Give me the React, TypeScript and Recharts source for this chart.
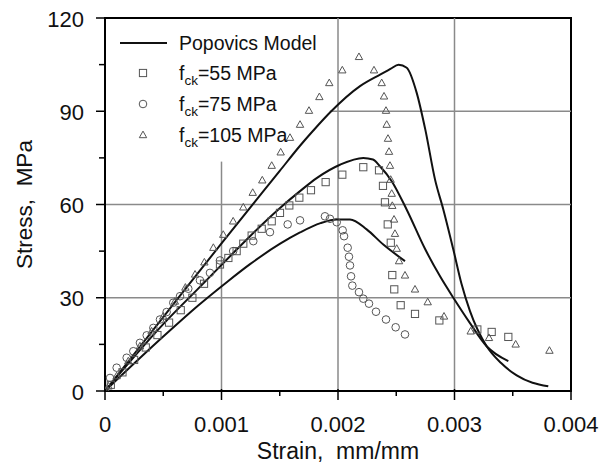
import React from 'react';
import {
  ComposedChart,
  Line,
  Scatter,
  XAxis,
  YAxis,
  ReferenceLine,
  ReferenceArea,
  Legend,
} from 'recharts';

const FONT = '"Liberation Sans", Arial, Helvetica, sans-serif';

// ---- Popovics model curves (strain in mm/mm, stress in MPa) ----
const pop105Strain = [0, 0.0005, 0.001, 0.0015, 0.001674, 0.001788, 0.001931, 0.002189, 0.002361, 0.00245, 0.00252, 0.00259, 0.002675, 0.00275, 0.002833, 0.002904, 0.00299, 0.00306, 0.003133, 0.003276, 0.0034, 0.003534, 0.003805];
const pop105Stress = [0, 23.8, 47.5, 70.8, 78.9, 83.8, 89.6, 98.1, 101.8, 103.6, 105, 104, 96, 84, 68, 58.4, 45.5, 34.5, 25.7, 14.4, 9, 5, 1.5];

const pop75Strain = [0, 0.0005, 0.000815, 0.00113, 0.001245, 0.0015, 0.001674, 0.001817, 0.002017, 0.002217, 0.0023, 0.00236, 0.002461, 0.002589, 0.00275, 0.002876, 0.00299, 0.00313, 0.003276, 0.003462];
const pop75Stress = [0, 21.5, 33.5, 45.5, 49.8, 58.8, 64.3, 68.5, 72.8, 75, 74.5, 72.3, 67.5, 58.4, 45.5, 36.9, 30, 22, 14.4, 9.6];

const pop55Strain = [0, 0.0005, 0.0008, 0.001045, 0.001245, 0.0015, 0.001674, 0.00185, 0.00199, 0.002103, 0.002246, 0.002389, 0.002575];
const pop55Stress = [0, 17.5, 27.5, 35, 40.8, 47.3, 51, 54, 55.2, 55.2, 52, 47.1, 41.8];

// ---- Test data ----
const fck55Strain = [0, 0.00005, 0.00015, 0.00025, 0.00035, 0.00045, 0.00055, 0.00065, 0.00075, 0.00085, 0.000987, 0.001059, 0.00113, 0.001187, 0.001259, 0.001345, 0.001431, 0.001502, 0.001582, 0.001668, 0.001768, 0.001894, 0.002037, 0.002217, 0.002352, 0.002386, 0.002403, 0.002427, 0.002453, 0.002466, 0.002483, 0.002538, 0.002661, 0.00287, 0.003196, 0.003319, 0.003462];
const fck55Stress = [0, 2, 6, 10, 14, 18, 22, 26, 30, 34.5, 40.7, 42.8, 45, 47.4, 50, 52.2, 54.6, 57.3, 59.7, 62.2, 64.6, 67.2, 69.6, 72, 71, 66, 60.7, 53.6, 47.7, 37.3, 32.7, 27.6, 24.8, 22.7, 19.8, 19, 17.4];

const fck75Strain = [0, 0.000043, 0.0001, 0.000186, 0.000243, 0.0003, 0.000358, 0.000415, 0.000472, 0.000529, 0.000586, 0.000644, 0.000715, 0.000815, 0.000901, 0.000987, 0.0011, 0.001273, 0.001416, 0.001568, 0.001674, 0.001888, 0.001931, 0.001989, 0.00204, 0.002052, 0.002083, 0.002094, 0.002103, 0.002112, 0.002123, 0.00218, 0.002217, 0.002266, 0.002326, 0.002412, 0.002495, 0.002575];
const fck75Stress = [0, 4.2, 7.5, 10.7, 12.8, 15.5, 17.9, 20.3, 23, 25.4, 28.4, 30.5, 32.9, 35.6, 38, 42, 45, 48.2, 51.1, 53.6, 54.9, 56.2, 55.4, 54.3, 51.7, 49.8, 46.1, 43.2, 40.4, 36.9, 33.9, 31.8, 29.7, 28.1, 25.5, 23, 20.5, 18.2];

const fck105Strain = [0, 0.00003, 0.0001, 0.0002, 0.0003, 0.0004, 0.0005, 0.0006, 0.00069, 0.000773, 0.000853, 0.00093, 0.001015, 0.0011, 0.001187, 0.001268, 0.00135, 0.001431, 0.001508, 0.001588, 0.001674, 0.001751, 0.00184, 0.001925, 0.002037, 0.00218, 0.002309, 0.002375, 0.002395, 0.002412, 0.002418, 0.002429, 0.002438, 0.002446, 0.002452, 0.002461, 0.002466, 0.002481, 0.002489, 0.002504, 0.002524, 0.002575, 0.002661, 0.00277, 0.00291, 0.003139, 0.003296, 0.003525, 0.003815];
const fck105Stress = [0, 1.5, 4.8, 9.6, 14.4, 19.2, 24, 28.8, 33.3, 37.5, 41.4, 46.1, 50.3, 54.6, 59.1, 63.8, 67.8, 72.5, 76.8, 81.5, 85.7, 90.2, 94.6, 99.1, 103.2, 107.5, 103.2, 99.1, 94.8, 90.2, 85.7, 81.2, 77, 72.5, 68, 63.5, 59.6, 55.2, 50.6, 45.8, 41.8, 37.2, 32.7, 28.6, 24, 19.2, 17.1, 15, 13];

// ---- Axis ticks ----
const xTicks = [0, 0.0005, 0.001, 0.0015, 0.002, 0.0025, 0.003, 0.0035, 0.004];
const xTickLabels = ['0', '', '0.001', '', '0.002', '', '0.003', '', '0.004'];
const yTicks = [0, 15, 30, 45, 60, 75, 90, 105, 120];
const yTickLabels = ['0', '', '30', '', '60', '', '90', '', '120'];

const zip = (xs: number[], ys: number[]) => xs.map((x, i) => ({ strain: x, stress: ys[i] }));

const pop105 = zip(pop105Strain, pop105Stress);
const pop75 = zip(pop75Strain, pop75Stress);
const pop55 = zip(pop55Strain, pop55Stress);
const d55 = zip(fck55Strain, fck55Stress);
const d75 = zip(fck75Strain, fck75Stress);
const d105 = zip(fck105Strain, fck105Stress);

const MARK = '#555';

const SquareShape = (p: any) => (
  <rect x={p.cx - 3.6} y={p.cy - 3.6} width={7.2} height={7.2} fill="none" stroke={MARK} strokeWidth={1} />
);
const CircleShape = (p: any) => (
  <circle cx={p.cx} cy={p.cy} r={3.8} fill="none" stroke={MARK} strokeWidth={1} />
);
const TriangleShape = (p: any) => (
  <polygon
    points={`${p.cx},${p.cy - 3.9} ${p.cx - 3.7},${p.cy + 2.7} ${p.cx + 3.7},${p.cy + 2.7}`}
    fill="none"
    stroke={MARK}
    strokeWidth={1}
  />
);

const XTick = (props: any) => {
  const { x, y, payload } = props;
  const i = xTicks.findIndex((t) => Math.abs(t - payload.value) < 1e-9);
  const label = i >= 0 ? xTickLabels[i] : '';
  const major = label !== '';
  return (
    <g>
      <line x1={x} x2={x} y1={y - (major ? 2 : 0)} y2={y + (major ? 9 : 5)} stroke="#000" strokeWidth={1.5} />
      {major && (
        <text x={x} y={y + 41} textAnchor="middle" fontSize={22} fontFamily={FONT} fill="#111">
          {label}
        </text>
      )}
    </g>
  );
};

const YTick = (props: any) => {
  const { x, y, payload } = props;
  const i = yTicks.findIndex((t) => Math.abs(t - payload.value) < 1e-9);
  const label = i >= 0 ? yTickLabels[i] : '';
  const major = label !== '';
  return (
    <g>
      <line x1={x - (major ? 9 : 6)} x2={x} y1={y} y2={y} stroke="#000" strokeWidth={1.5} />
      {major && (
        <text x={x - 21} y={y + 8.5} textAnchor="end" fontSize={22} fontFamily={FONT} fill="#111">
          {label}
        </text>
      )}
    </g>
  );
};

const YLabel = (p: any) => {
  const vb = p.viewBox || { x: 0, y: 10, width: 97, height: 373 };
  const cx = vb.x + 16;
  const cy = vb.y + vb.height / 2;
  return (
    <text
      x={cx}
      y={cy}
      transform={`rotate(-90, ${cx}, ${cy})`}
      textAnchor="middle"
      dominantBaseline="central"
      fontSize={22.5}
      fontFamily={FONT}
      fill="#111"
      style={{ whiteSpace: 'pre' }}
    >
      {'Stress,  MPa'}
    </text>
  );
};

const XLabel = (p: any) => {
  const vb = p.viewBox || { x: 97, y: 383, width: 466, height: 72 };
  return (
    <text
      x={vb.x + vb.width / 2}
      y={vb.y + 67.5}
      textAnchor="middle"
      fontSize={23}
      fontFamily={FONT}
      fill="#111"
      style={{ whiteSpace: 'pre' }}
    >
      {'Strain,  mm/mm'}
    </text>
  );
};

const legendRows = [
  { main: 'Popovics Model', sub: '', rest: '' },
  { main: 'f', sub: 'ck', rest: '=55 MPa' },
  { main: 'f', sub: 'ck', rest: '=75 MPa' },
  { main: 'f', sub: 'ck', rest: '=105 MPa' },
];
const rowY = [15, 45, 76, 107];

const LegendContent = () => (
  <svg width={240} height={130} style={{ display: 'block', overflow: 'visible' }}>
    <line x1={12} x2={59} y1={rowY[0]} y2={rowY[0]} stroke="#111" strokeWidth={2} />
    <SquareShape cx={35} cy={rowY[1]} />
    <CircleShape cx={35} cy={rowY[2]} />
    <TriangleShape cx={35} cy={rowY[3]} />
    {legendRows.map((r, i) => (
      <text key={i} x={71} y={rowY[i] + 7} fontSize={19.5} fontFamily={FONT} fill="#111">
        {r.main}
        {r.sub && (
          <tspan fontSize={13.5} dy={5}>
            {r.sub}
          </tspan>
        )}
        {r.rest && (
          <tspan fontSize={19.5} dy={-5}>
            {r.rest}
          </tspan>
        )}
      </text>
    ))}
  </svg>
);

const GRID = '#8a8a8a';

export default function App() {
  return (
    <ComposedChart width={605} height={455} margin={{ top: 10, right: 42, bottom: 0, left: 0 }}>
      <XAxis
        dataKey="strain"
        type="number"
        domain={[0, 0.004]}
        ticks={xTicks}
        interval={0}
        tickSize={0}
        tickMargin={0}
        tickLine={false}
        tick={<XTick />}
        axisLine={{ stroke: '#000', strokeWidth: 2 }}
        height={72}
        allowDataOverflow
        label={<XLabel />}
      />
      <YAxis
        dataKey="stress"
        type="number"
        domain={[0, 120]}
        ticks={yTicks}
        interval={0}
        tickSize={0}
        tickMargin={0}
        tickLine={false}
        tick={<YTick />}
        axisLine={{ stroke: '#000', strokeWidth: 2 }}
        width={97}
        allowDataOverflow
        label={<YLabel />}
      />
      <ReferenceLine segment={[{ x: 0, y: 30 }, { x: 0.004, y: 30 }]} stroke={GRID} strokeWidth={1.5} />
      <ReferenceLine segment={[{ x: 0, y: 60 }, { x: 0.004, y: 60 }]} stroke={GRID} strokeWidth={1.5} />
      <ReferenceLine segment={[{ x: 0.00193, y: 90 }, { x: 0.004, y: 90 }]} stroke={GRID} strokeWidth={1.5} />
      <ReferenceLine segment={[{ x: 0.001, y: 0 }, { x: 0.001, y: 73.8 }]} stroke={GRID} strokeWidth={1.5} />
      <ReferenceLine segment={[{ x: 0.002, y: 0 }, { x: 0.002, y: 120 }]} stroke={GRID} strokeWidth={1.5} />
      <ReferenceLine segment={[{ x: 0.003, y: 0 }, { x: 0.003, y: 120 }]} stroke={GRID} strokeWidth={1.5} />
      <ReferenceArea x1={0} x2={0.004} y1={0} y2={120} fill="none" fillOpacity={0} stroke="#000" strokeWidth={2} />
      <Line data={pop105} dataKey="stress" type="monotoneX" dot={false} activeDot={false} stroke="#111" strokeWidth={2} isAnimationActive={false} legendType="none" />
      <Line data={pop75} dataKey="stress" type="monotoneX" dot={false} activeDot={false} stroke="#111" strokeWidth={2} isAnimationActive={false} legendType="none" />
      <Line data={pop55} dataKey="stress" type="monotoneX" dot={false} activeDot={false} stroke="#111" strokeWidth={2} isAnimationActive={false} legendType="none" />
      <Scatter data={d55} dataKey="stress" shape={SquareShape} isAnimationActive={false} legendType="none" />
      <Scatter data={d75} dataKey="stress" shape={CircleShape} isAnimationActive={false} legendType="none" />
      <Scatter data={d105} dataKey="stress" shape={TriangleShape} isAnimationActive={false} legendType="none" />
      <Legend
        layout="vertical"
        align="center"
        verticalAlign="middle"
        wrapperStyle={{ top: 20, left: 100, width: 240, height: 130 }}
        content={LegendContent}
      />
    </ComposedChart>
  );
}
